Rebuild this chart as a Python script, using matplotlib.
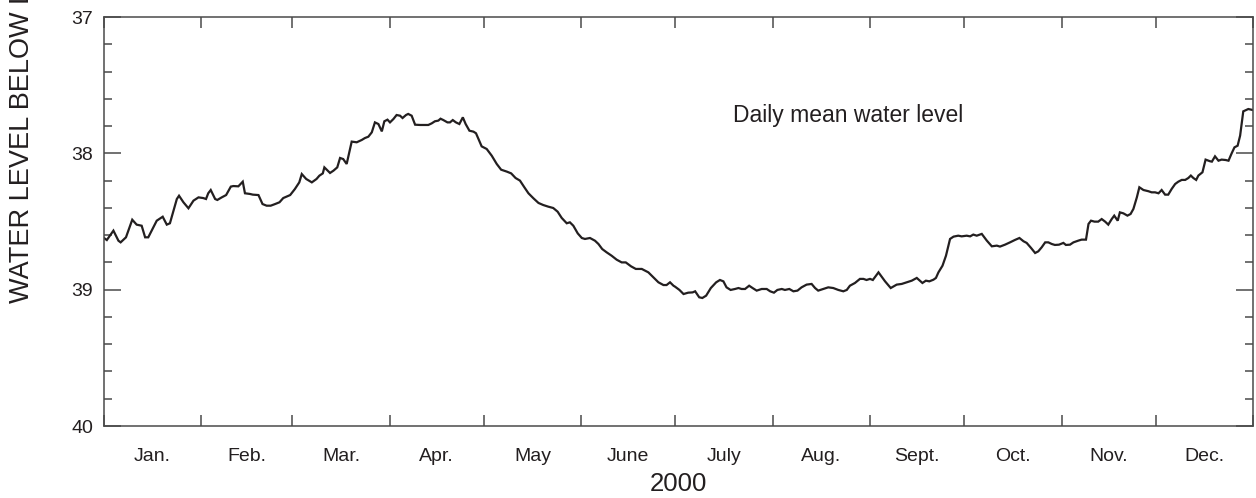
import matplotlib
matplotlib.use("Agg")
import matplotlib.pyplot as plt
from matplotlib.ticker import FixedLocator, FixedFormatter, NullFormatter

plt.rcParams['font.family'] = ['Liberation Sans', 'DejaVu Sans']

# ---------------- data (day of year 2000, water level in feet below land surface) ----------------
days_winter = [0.0, 0.9, 3.0, 4.6, 5.3, 7.0, 9.0, 10.4, 12.0, 13.1, 14.1, 16.8, 18.7, 20.0, 21.0,
               23.2, 23.9, 25.3, 26.9, 28.5, 30.1, 31.6, 32.5, 33.2, 34.0, 35.4, 36.1, 37.5, 38.9,
               40.4, 41.2, 42.8, 44.2, 44.9, 46.5, 47.4, 49.2, 50.5, 51.8, 53.1, 54.5, 55.9, 57.1,
               59.3, 60.8, 62.2, 63.0, 64.4, 66.2, 67.7, 68.6, 69.7, 70.2, 72.0, 73.1, 74.3, 75.2,
               76.2, 77.3, 78.9, 80.5, 82.1, 83.1, 84.2, 85.3, 86.3, 87.4, 88.5, 89.3, 90.3, 91.1]
level_winter = [38.621, 38.636, 38.567, 38.641, 38.653, 38.616, 38.487, 38.523, 38.531, 38.616,
                38.616, 38.494, 38.465, 38.523, 38.513, 38.335, 38.311, 38.359, 38.403, 38.347,
                38.323, 38.328, 38.335, 38.293, 38.269, 38.335, 38.342, 38.323, 38.306, 38.244,
                38.240, 38.242, 38.208, 38.293, 38.298, 38.303, 38.306, 38.372, 38.384, 38.384,
                38.372, 38.359, 38.328, 38.306, 38.262, 38.213, 38.152, 38.188, 38.213, 38.188,
                38.164, 38.147, 38.103, 38.144, 38.127, 38.103, 38.034, 38.042, 38.078, 37.914,
                37.919, 37.902, 37.888, 37.878, 37.846, 37.773, 37.785, 37.839, 37.765, 37.753,
                37.773]

days_spring = [92.2, 93.2, 94.3, 95.1, 96.2, 96.9, 98.0, 99.1, 100.7, 103.3, 104.4, 105.4, 106.5,
               107.2, 108.1, 109.4, 110.2, 111.1, 112.1, 113.2, 114.3, 115.2, 116.4, 117.7, 118.5,
               120.3, 121.9, 123.5, 125.1]
level_spring = [37.748, 37.719, 37.724, 37.741, 37.719, 37.711, 37.724, 37.790, 37.792, 37.792,
                37.780, 37.765, 37.760, 37.746, 37.756, 37.773, 37.773, 37.756, 37.773, 37.785,
                37.736, 37.785, 37.834, 37.841, 37.853, 37.949, 37.968, 38.017, 38.078]

days_early_summer = [126.5, 128.3, 129.7, 131.1, 132.5, 133.9, 135.2, 136.8, 138.4, 139.9, 141.5,
                     143.1, 144.5, 145.8, 147.4, 148.4, 149.5, 150.9, 152.2, 153.2, 154.8, 156.4,
                     157.5, 158.7, 160.1, 161.7, 163.3, 164.9, 166.2, 167.9, 169.4, 171.3, 173.4,
                     175.0, 176.6, 178.2, 179.2, 180.3, 181.4]
level_early_summer = [38.120, 38.134, 38.147, 38.181, 38.200, 38.249, 38.293, 38.330, 38.364,
                      38.379, 38.391, 38.401, 38.428, 38.474, 38.513, 38.506, 38.531, 38.587,
                      38.621, 38.628, 38.621, 38.641, 38.665, 38.702, 38.726, 38.751, 38.780,
                      38.800, 38.800, 38.829, 38.848, 38.848, 38.873, 38.910, 38.946, 38.966,
                      38.966, 38.946, 38.971]

days_late_summer = [181.9, 183.3, 184.6, 186.1, 187.5, 188.3, 189.6, 190.6, 191.8, 193.3, 195.0,
                    196.2, 197.3, 198.3, 199.6, 201.0, 202.1, 203.1, 204.2, 205.5, 206.6, 207.9,
                    209.5, 211.1, 212.2, 213.4, 214.5, 215.9, 216.9, 218.3, 219.6, 220.9, 222.2,
                    223.8, 225.4, 226.5, 227.5, 229.1, 230.7, 232.3, 233.9, 235.5, 236.6, 237.6,
                    239.2, 240.8, 241.9, 242.9, 244.0, 244.9, 246.7, 248.8, 250.6, 252.5, 254.1,
                    255.7, 257.3, 258.9, 260.7, 261.8, 262.9, 264.2, 265.0, 265.8, 267.1, 268.2,
                    269.5, 270.6, 272.1]
level_late_summer = [38.978, 39.002, 39.032, 39.022, 39.020, 39.012, 39.056, 39.061, 39.044,
                     38.988, 38.946, 38.929, 38.939, 38.983, 39.002, 38.995, 38.988, 38.995,
                     38.995, 38.971, 38.988, 39.007, 38.995, 38.995, 39.012, 39.022, 39.002,
                     38.995, 39.002, 38.995, 39.012, 39.007, 38.983, 38.963, 38.958, 38.988,
                     39.007, 38.995, 38.983, 38.988, 39.002, 39.012, 39.002, 38.971, 38.951,
                     38.921, 38.921, 38.929, 38.921, 38.929, 38.873, 38.939, 38.988, 38.963,
                     38.958, 38.946, 38.934, 38.914, 38.951, 38.934, 38.939, 38.927, 38.914,
                     38.873, 38.824, 38.751, 38.628, 38.611, 38.604]

days_autumn = [273.2, 274.8, 275.9, 276.9, 278.0, 279.6, 281.2, 282.8, 284.4, 285.4, 287.0, 288.6,
               290.2, 291.6, 292.9, 293.9, 295.3, 296.6, 297.6, 298.7, 299.8, 300.8, 301.9, 302.9,
               304.2, 305.6, 306.4, 307.7, 308.8, 310.4, 311.4, 312.8, 313.6, 314.4, 315.5, 316.7,
               317.8, 318.9, 319.9, 321.0, 321.8, 322.9, 323.6, 324.7, 326.0, 327.0, 327.9, 329.0,
               329.8, 331.1, 332.7, 333.7, 334.8, 335.9, 336.9, 338.0, 339.0, 340.1, 341.2, 342.2,
               343.3, 344.4, 345.4, 346.2, 347.0, 347.9, 348.6, 349.9, 350.9, 352.3, 352.9, 353.9,
               355.0, 356.0, 357.3, 358.2, 359.2, 360.1, 361.1, 361.9, 362.9, 364.5, 365.9]
level_autumn = [38.609, 38.604, 38.609, 38.596, 38.604, 38.591, 38.640, 38.682, 38.677, 38.684,
                38.670, 38.653, 38.635, 38.621, 38.645, 38.657, 38.694, 38.731, 38.719, 38.689,
                38.653, 38.653, 38.665, 38.672, 38.670, 38.657, 38.672, 38.670, 38.653, 38.640,
                38.633, 38.633, 38.518, 38.494, 38.501, 38.501, 38.482, 38.501, 38.523, 38.482,
                38.457, 38.494, 38.433, 38.440, 38.457, 38.445, 38.408, 38.323, 38.249, 38.269,
                38.278, 38.286, 38.286, 38.293, 38.269, 38.303, 38.303, 38.261, 38.225, 38.208,
                38.195, 38.195, 38.181, 38.163, 38.181, 38.195, 38.163, 38.139, 38.046, 38.058,
                38.061, 38.022, 38.054, 38.046, 38.049, 38.054, 38.000, 37.956, 37.944, 37.870,
                37.692, 37.675, 37.682]

month_labels = ["Jan.", "Feb.", "Mar.", "Apr.", "May", "June", "July", "Aug.",
                "Sept.", "Oct.", "Nov.", "Dec."]
month_starts = [0, 31, 60, 91, 121, 152, 182, 213, 244, 274, 305, 335, 366]
y_ticks = [37, 38, 39, 40]
y_tick_labels = ["37", "38", "39", "40"]
y_minor_ticks = [37.2, 37.4, 37.6, 37.8, 38.2, 38.4, 38.6, 38.8, 39.2, 39.4, 39.6, 39.8]

days = days_winter + days_spring + days_early_summer + days_late_summer + days_autumn
levels = level_winter + level_spring + level_early_summer + level_late_summer + level_autumn
assert len(days) == len(levels)

# ---------------- figure ----------------
W, H = 1256, 498
fig = plt.figure(figsize=(W / 100, H / 100), dpi=100)
left, right, top, bottom = 104, 1253, 17, 426
ax = fig.add_axes([left / W, 1 - bottom / H, (right - left) / W, (bottom - top) / H])

ink = '#231f20'
axis_col = '#4a4a4a'

ax.plot(days, levels, color=ink, lw=1.6, solid_joinstyle='miter')

ax.set_xlim(month_starts[0], month_starts[-1])
ax.set_ylim(40, 37)

for s in ax.spines.values():
    s.set_color(axis_col)
    s.set_linewidth(1.1)

ax.yaxis.set_major_locator(FixedLocator(y_ticks))
ax.yaxis.set_major_formatter(FixedFormatter(y_tick_labels))
ax.yaxis.set_minor_locator(FixedLocator(y_minor_ticks))
ax.tick_params(axis='y', which='both', direction='in', left=True, right=True,
               color=axis_col, width=1.1, labelcolor=ink)
ax.tick_params(axis='y', which='major', length=12, labelsize=14, pad=8)
ax.tick_params(axis='y', which='minor', length=6)

mids = [(a + b) / 2 for a, b in zip(month_starts[:-1], month_starts[1:])]
ax.xaxis.set_major_locator(FixedLocator(month_starts))
ax.xaxis.set_major_formatter(NullFormatter())
ax.xaxis.set_minor_locator(FixedLocator(mids))
ax.xaxis.set_minor_formatter(FixedFormatter(month_labels))
ax.tick_params(axis='x', which='major', direction='in', length=8, top=True, bottom=True,
               color=axis_col, width=1.1)
ax.tick_params(axis='x', which='minor', length=0, labelsize=14, pad=16, labelcolor=ink)

ax.text(200.4, 37.726, "Daily mean water level", ha='left', va='center',
        fontsize=16.5, color=ink)

fig.text((left + right) / 2 / W, 1 - 484 / H, "2000", ha='center', va='center',
         fontsize=18.5, color=ink)
fig.text(22 / W, 1 - 303 / H, "WATER LEVEL BELOW LAND SURFACE, IN FEET", rotation=90,
         ha='center', va='bottom', fontsize=19.5, color=ink)

fig.savefig("out.png", dpi=100)
